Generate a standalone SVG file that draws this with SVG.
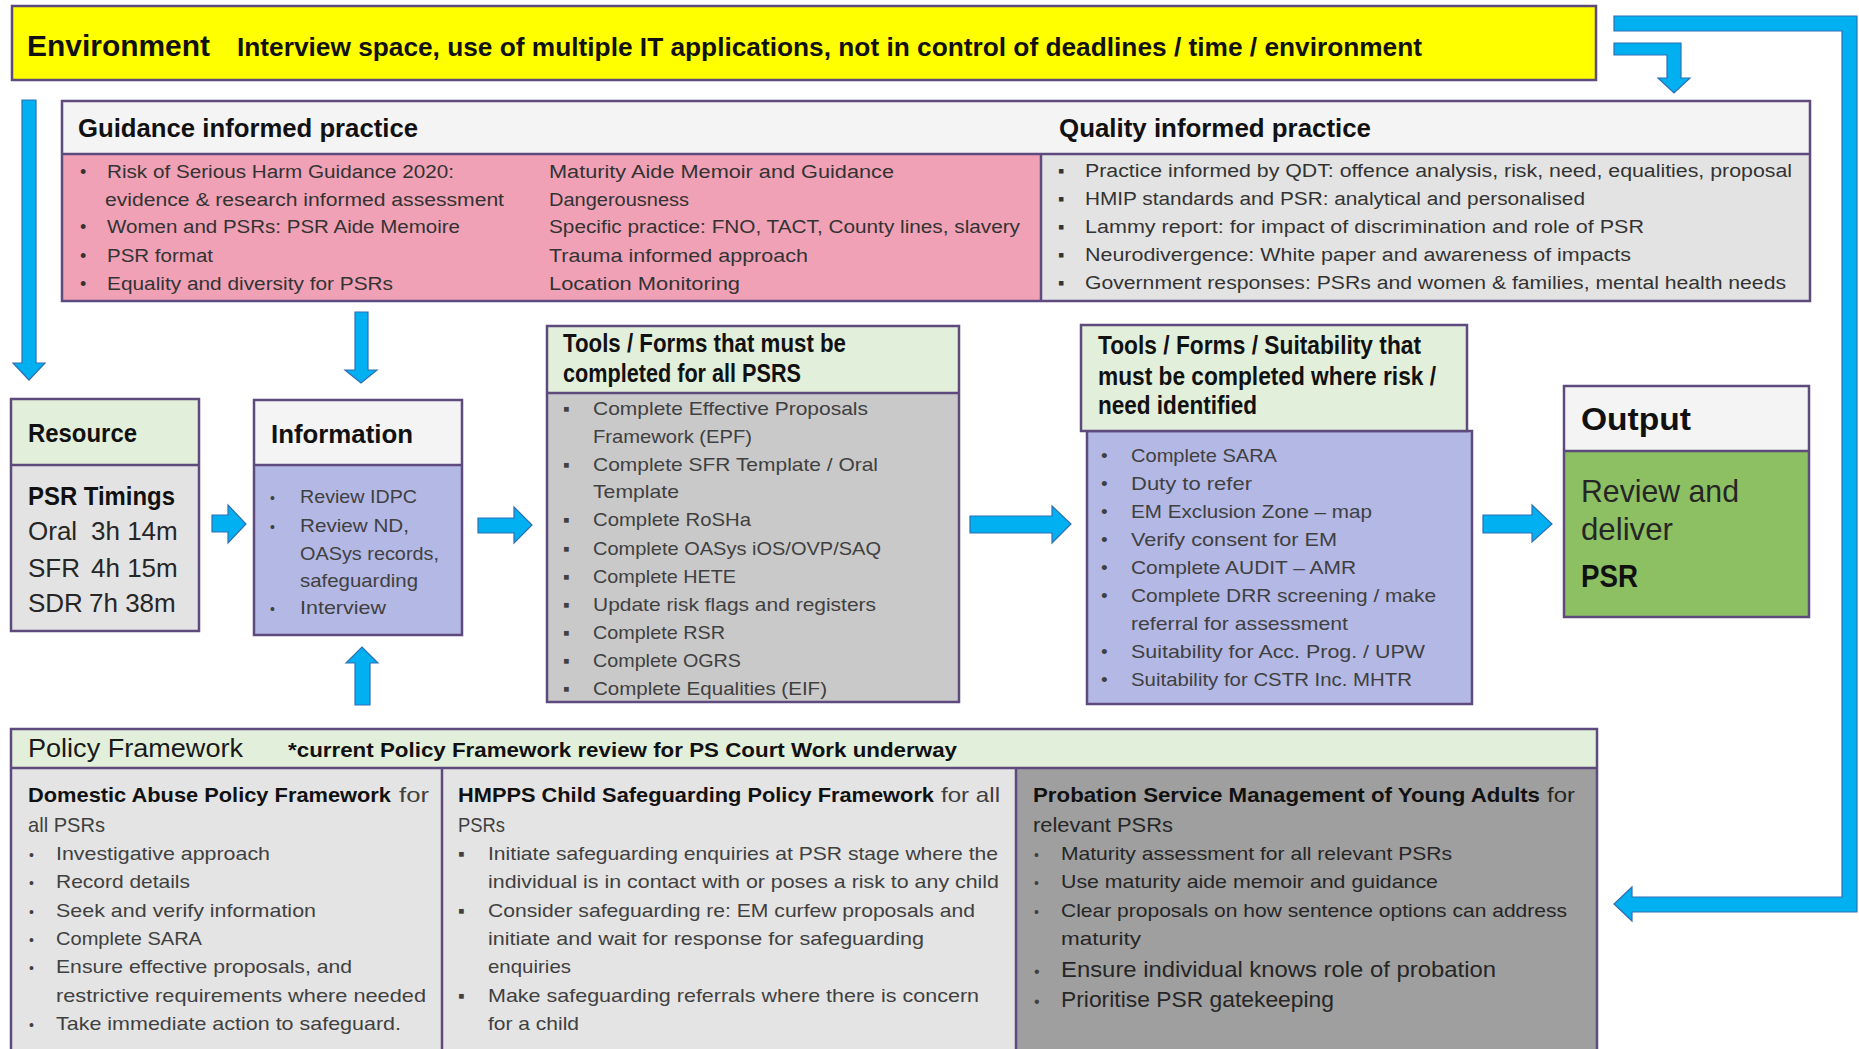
<svg xmlns="http://www.w3.org/2000/svg" width="1859" height="1049" viewBox="0 0 1859 1049">
<style>
text{font-family:"Liberation Sans",Arial,sans-serif;}
.b{font-weight:bold;fill:#111;}
.h{font-weight:bold;fill:#111;font-size:25px;}
.it{font-size:19px;fill:#404040;}
.pk{font-size:18px;fill:#333;}
.box{stroke:#5e4a7c;stroke-width:2.5;}
.arr{fill:#00b0f0;stroke:#2f6fb5;stroke-width:1.2;stroke-linejoin:miter;}
</style>
<rect width="1859" height="1049" fill="#ffffff"/>

<g id="connectors">
<polygon class="arr" points="1614,16 1857,16 1857,912 1632,912 1632,921 1614,904 1632,887 1632,897 1842,897 1842,31 1614,31"/>
<polygon class="arr" points="1614,43 1681,43 1681,78 1690,78 1674,93 1658,78 1667,78 1667,55 1614,55"/>
<polygon class="arr" points="22,100 36,100 36,363 45,363 29,380 13,363 22,363"/>
<polygon class="arr" points="355,312 368,312 368,370 377,370 361,383 345,370 355,370"/>
<polygon class="arr" points="355,705 370,705 370,663 378,663 362,647 346,663 355,663"/>
<polygon class="arr" points="212,515 228,515 228,505 246,524 228,543 228,532 212,532"/>
<polygon class="arr" points="478,518 514,518 514,507 532,525 514,543 514,533 478,533"/>
<polygon class="arr" points="970,516 1052,516 1052,506 1071,524 1052,543 1052,533 970,533"/>
<polygon class="arr" points="1483,515 1532,515 1532,505 1552,524 1532,542 1532,533 1483,533"/>
</g>

<g id="environment">
<rect class="box" x="12" y="6" width="1584" height="74" fill="#ffff00"/>
<text class="b" x="27" y="56" font-size="30" textLength="183" lengthAdjust="spacingAndGlyphs">Environment</text>
<text class="b" x="237" y="56" font-size="25" textLength="1185" lengthAdjust="spacingAndGlyphs">Interview space, use of multiple IT applications, not in control of deadlines / time / environment</text>
</g>

<g id="guidance-quality">
<rect x="62" y="101" width="1748" height="53" fill="#f4f4f4"/>
<rect x="62" y="154" width="979" height="147" fill="#f1a1b6"/>
<rect x="1041" y="154" width="769" height="147" fill="#e3e3e3"/>
<line x1="62" y1="154" x2="1810" y2="154" stroke="#5e4a7c" stroke-width="2.5"/>
<line x1="1041" y1="154" x2="1041" y2="301" stroke="#5e4a7c" stroke-width="2.5"/>
<rect class="box" x="62" y="101" width="1748" height="200" fill="none"/>
<text class="h" x="78" y="137" font-size="26" textLength="340" lengthAdjust="spacingAndGlyphs">Guidance informed practice</text>
<text class="h" x="1059" y="137" font-size="26" textLength="312" lengthAdjust="spacingAndGlyphs">Quality informed practice</text>
<g class="pk">
<text x="80" y="178">•</text><text x="80" y="233">•</text><text x="80" y="262">•</text><text x="80" y="290">•</text>
<text x="107" y="178" textLength="347" lengthAdjust="spacingAndGlyphs">Risk of Serious Harm Guidance 2020:</text>
<text x="105" y="206" textLength="399" lengthAdjust="spacingAndGlyphs">evidence &amp; research informed assessment</text>
<text x="107" y="233" textLength="353" lengthAdjust="spacingAndGlyphs">Women and PSRs: PSR Aide Memoire</text>
<text x="107" y="262" textLength="106" lengthAdjust="spacingAndGlyphs">PSR format</text>
<text x="107" y="290" textLength="286" lengthAdjust="spacingAndGlyphs">Equality and diversity for PSRs</text>
<text x="549" y="178" textLength="345" lengthAdjust="spacingAndGlyphs">Maturity Aide Memoir and Guidance</text>
<text x="549" y="206" textLength="140" lengthAdjust="spacingAndGlyphs">Dangerousness</text>
<text x="549" y="233" textLength="471" lengthAdjust="spacingAndGlyphs">Specific practice: FNO, TACT, County lines, slavery</text>
<text x="549" y="262" textLength="259" lengthAdjust="spacingAndGlyphs">Trauma informed approach</text>
<text x="549" y="290" textLength="191" lengthAdjust="spacingAndGlyphs">Location Monitoring</text>
<text x="1058" y="177">▪</text><text x="1058" y="205">▪</text><text x="1058" y="233">▪</text><text x="1058" y="261">▪</text><text x="1058" y="289">▪</text>
<text x="1085" y="177" textLength="707" lengthAdjust="spacingAndGlyphs">Practice informed by QDT: offence analysis, risk, need, equalities, proposal</text>
<text x="1085" y="205" textLength="500" lengthAdjust="spacingAndGlyphs">HMIP standards and PSR: analytical and personalised</text>
<text x="1085" y="233" textLength="559" lengthAdjust="spacingAndGlyphs">Lammy report: for impact of discrimination and role of PSR</text>
<text x="1085" y="261" textLength="546" lengthAdjust="spacingAndGlyphs">Neurodivergence: White paper and awareness of impacts</text>
<text x="1085" y="289" textLength="701" lengthAdjust="spacingAndGlyphs">Government responses: PSRs and women &amp; families, mental health needs</text>
</g>
</g>

<g id="resource">
<rect x="11" y="399" width="188" height="66" fill="#e2efda"/>
<rect x="11" y="465" width="188" height="166" fill="#e3e3e3"/>
<line x1="11" y1="465" x2="199" y2="465" stroke="#5e4a7c" stroke-width="2.5"/>
<rect class="box" x="11" y="399" width="188" height="232" fill="none"/>
<text class="h" x="28" y="442" textLength="109" lengthAdjust="spacingAndGlyphs">Resource</text>
<text class="h" x="28" y="505" font-size="26" textLength="147" lengthAdjust="spacingAndGlyphs">PSR Timings</text>
<g font-size="26" fill="#262626">
<text x="28" y="540">Oral</text><text x="91" y="540">3h 14m</text>
<text x="28" y="577">SFR</text><text x="91" y="577">4h 15m</text>
<text x="28" y="612">SDR</text><text x="89" y="612">7h 38m</text>
</g>
</g>

<g id="information">
<rect x="254" y="400" width="208" height="65" fill="#f4f4f4"/>
<rect x="254" y="465" width="208" height="170" fill="#b4b8e5"/>
<line x1="254" y1="465" x2="462" y2="465" stroke="#5e4a7c" stroke-width="2.5"/>
<rect class="box" x="254" y="400" width="208" height="235" fill="none"/>
<text class="h" x="271" y="443" textLength="142" lengthAdjust="spacingAndGlyphs">Information</text>
<g class="it" fill="#555">
<text x="270" y="503" font-size="14">•</text><text x="270" y="532" font-size="14">•</text><text x="270" y="614" font-size="14">•</text>
<text x="300" y="503" textLength="117" lengthAdjust="spacingAndGlyphs">Review IDPC</text>
<text x="300" y="532" textLength="109" lengthAdjust="spacingAndGlyphs">Review ND,</text>
<text x="300" y="560" textLength="139" lengthAdjust="spacingAndGlyphs">OASys records,</text>
<text x="300" y="587" textLength="118" lengthAdjust="spacingAndGlyphs">safeguarding</text>
<text x="300" y="614" textLength="86" lengthAdjust="spacingAndGlyphs">Interview</text>
</g>
</g>

<g id="tools-all">
<rect x="547" y="326" width="412" height="67" fill="#e2efda"/>
<rect x="547" y="393" width="412" height="309" fill="#c9c9c9"/>
<line x1="547" y1="393" x2="959" y2="393" stroke="#5e4a7c" stroke-width="2.5"/>
<rect class="box" x="547" y="326" width="412" height="376" fill="none"/>
<text class="h" x="563" y="352" font-size="23" textLength="283" lengthAdjust="spacingAndGlyphs">Tools / Forms that must be</text>
<text class="h" x="563" y="382" font-size="23" textLength="238" lengthAdjust="spacingAndGlyphs">completed for all PSRS</text>
<g class="it">
<text x="563" y="415">▪</text><text x="563" y="471">▪</text><text x="563" y="526">▪</text><text x="563" y="555">▪</text><text x="563" y="583">▪</text><text x="563" y="611">▪</text><text x="563" y="639">▪</text><text x="563" y="667">▪</text><text x="563" y="695">▪</text>
<text x="593" y="415" textLength="275" lengthAdjust="spacingAndGlyphs">Complete Effective Proposals</text>
<text x="593" y="443" textLength="159" lengthAdjust="spacingAndGlyphs">Framework (EPF)</text>
<text x="593" y="471" textLength="285" lengthAdjust="spacingAndGlyphs">Complete SFR Template / Oral</text>
<text x="593" y="498" textLength="86" lengthAdjust="spacingAndGlyphs">Template</text>
<text x="593" y="526" textLength="158" lengthAdjust="spacingAndGlyphs">Complete RoSHa</text>
<text x="593" y="555" textLength="288" lengthAdjust="spacingAndGlyphs">Complete OASys iOS/OVP/SAQ</text>
<text x="593" y="583" textLength="143" lengthAdjust="spacingAndGlyphs">Complete HETE</text>
<text x="593" y="611" textLength="283" lengthAdjust="spacingAndGlyphs">Update risk flags and registers</text>
<text x="593" y="639" textLength="132" lengthAdjust="spacingAndGlyphs">Complete RSR</text>
<text x="593" y="667" textLength="148" lengthAdjust="spacingAndGlyphs">Complete OGRS</text>
<text x="593" y="695" textLength="234" lengthAdjust="spacingAndGlyphs">Complete Equalities (EIF)</text>
</g>
</g>

<g id="tools-risk">
<rect class="box" x="1087" y="431" width="385" height="273" fill="#b4b8e5"/>
<rect class="box" x="1081" y="325" width="386" height="106" fill="#e2efda"/>
<text class="h" x="1098" y="354" font-size="23" textLength="323" lengthAdjust="spacingAndGlyphs">Tools / Forms / Suitability that</text>
<text class="h" x="1098" y="385" font-size="23" textLength="338" lengthAdjust="spacingAndGlyphs">must be completed where risk /</text>
<text class="h" x="1098" y="414" font-size="23" textLength="159" lengthAdjust="spacingAndGlyphs">need identified</text>
<g class="it" font-size="18">
<text x="1101" y="462">•</text><text x="1101" y="490">•</text><text x="1101" y="518">•</text><text x="1101" y="546">•</text><text x="1101" y="574">•</text><text x="1101" y="602">•</text><text x="1101" y="658">•</text><text x="1101" y="686">•</text>
<text x="1131" y="462" textLength="146" lengthAdjust="spacingAndGlyphs">Complete SARA</text>
<text x="1131" y="490" textLength="121" lengthAdjust="spacingAndGlyphs">Duty to refer</text>
<text x="1131" y="518" textLength="241" lengthAdjust="spacingAndGlyphs">EM Exclusion Zone – map</text>
<text x="1131" y="546" textLength="206" lengthAdjust="spacingAndGlyphs">Verify consent for EM</text>
<text x="1131" y="574" textLength="225" lengthAdjust="spacingAndGlyphs">Complete AUDIT – AMR</text>
<text x="1131" y="602" textLength="305" lengthAdjust="spacingAndGlyphs">Complete DRR screening / make</text>
<text x="1131" y="630" textLength="217" lengthAdjust="spacingAndGlyphs">referral for assessment</text>
<text x="1131" y="658" textLength="294" lengthAdjust="spacingAndGlyphs">Suitability for Acc. Prog. / UPW</text>
<text x="1131" y="686" textLength="281" lengthAdjust="spacingAndGlyphs">Suitability for CSTR Inc. MHTR</text>
</g>
</g>

<g id="output">
<rect x="1564" y="386" width="245" height="65" fill="#f4f4f4"/>
<rect x="1564" y="451" width="245" height="166" fill="#8dc063"/>
<line x1="1564" y1="451" x2="1809" y2="451" stroke="#5e4a7c" stroke-width="2.5"/>
<rect class="box" x="1564" y="386" width="245" height="231" fill="none"/>
<text class="b" x="1581" y="430" font-size="32" textLength="110" lengthAdjust="spacingAndGlyphs">Output</text>
<text x="1581" y="502" font-size="32" fill="#262626" textLength="158" lengthAdjust="spacingAndGlyphs">Review and</text>
<text x="1581" y="540" font-size="32" fill="#262626" textLength="92" lengthAdjust="spacingAndGlyphs">deliver</text>
<text class="b" x="1581" y="587" font-size="32" textLength="57" lengthAdjust="spacingAndGlyphs">PSR</text>
</g>

<g id="policy">
<rect x="11" y="729" width="1586" height="39" fill="#e2efda"/>
<rect x="11" y="768" width="431" height="290" fill="#e4e4e4"/>
<rect x="442" y="768" width="574" height="290" fill="#e4e4e4"/>
<rect x="1016" y="768" width="581" height="290" fill="#9f9f9f"/>
<line x1="11" y1="768" x2="1597" y2="768" stroke="#5e4a7c" stroke-width="2.5"/>
<line x1="442" y1="768" x2="442" y2="1058" stroke="#5e4a7c" stroke-width="2.5"/>
<line x1="1016" y1="768" x2="1016" y2="1058" stroke="#5e4a7c" stroke-width="2.5"/>
<rect class="box" x="11" y="729" width="1586" height="329" fill="none"/>
<text x="28" y="757" font-size="26" fill="#1a1a1a" textLength="215" lengthAdjust="spacingAndGlyphs">Policy Framework</text>
<text class="b" x="288" y="757" font-size="21" textLength="669" lengthAdjust="spacingAndGlyphs">*current Policy Framework review for PS Court Work underway</text>

<text class="b" x="28" y="802" font-size="21" textLength="363" lengthAdjust="spacingAndGlyphs">Domestic Abuse Policy Framework</text>
<text x="399" y="802" font-size="21" fill="#404040" textLength="30" lengthAdjust="spacingAndGlyphs">for</text>
<text x="28" y="832" font-size="21" fill="#404040" textLength="77" lengthAdjust="spacingAndGlyphs">all PSRs</text>
<g class="it">
<text x="29" y="860" font-size="14">•</text><text x="29" y="888" font-size="14">•</text><text x="29" y="917" font-size="14">•</text><text x="29" y="945" font-size="14">•</text><text x="29" y="973" font-size="14">•</text><text x="29" y="1030" font-size="14">•</text>
<text x="56" y="860" textLength="214" lengthAdjust="spacingAndGlyphs">Investigative approach</text>
<text x="56" y="888" textLength="134" lengthAdjust="spacingAndGlyphs">Record details</text>
<text x="56" y="917" textLength="260" lengthAdjust="spacingAndGlyphs">Seek and verify information</text>
<text x="56" y="945" textLength="146" lengthAdjust="spacingAndGlyphs">Complete SARA</text>
<text x="56" y="973" textLength="296" lengthAdjust="spacingAndGlyphs">Ensure effective proposals, and</text>
<text x="56" y="1002" textLength="370" lengthAdjust="spacingAndGlyphs">restrictive requirements where needed</text>
<text x="56" y="1030" textLength="345" lengthAdjust="spacingAndGlyphs">Take immediate action to safeguard.</text>
</g>

<text class="b" x="458" y="802" font-size="21" textLength="476" lengthAdjust="spacingAndGlyphs">HMPPS Child Safeguarding Policy Framework</text>
<text x="941" y="802" font-size="21" fill="#404040" textLength="59" lengthAdjust="spacingAndGlyphs">for all</text>
<text x="458" y="832" font-size="21" fill="#404040" textLength="47" lengthAdjust="spacingAndGlyphs">PSRs</text>
<g class="it">
<text x="458" y="860">▪</text><text x="458" y="917">▪</text><text x="458" y="1002">▪</text>
<text x="488" y="860" textLength="510" lengthAdjust="spacingAndGlyphs">Initiate safeguarding enquiries at PSR stage where the</text>
<text x="488" y="888" textLength="511" lengthAdjust="spacingAndGlyphs">individual is in contact with or poses a risk to any child</text>
<text x="488" y="917" textLength="487" lengthAdjust="spacingAndGlyphs">Consider safeguarding re: EM curfew proposals and</text>
<text x="488" y="945" textLength="436" lengthAdjust="spacingAndGlyphs">initiate and wait for response for safeguarding</text>
<text x="488" y="973" textLength="83" lengthAdjust="spacingAndGlyphs">enquiries</text>
<text x="488" y="1002" textLength="491" lengthAdjust="spacingAndGlyphs">Make safeguarding referrals where there is concern</text>
<text x="488" y="1030" textLength="91" lengthAdjust="spacingAndGlyphs">for a child</text>
</g>

<text class="b" x="1033" y="802" font-size="21" textLength="507" lengthAdjust="spacingAndGlyphs">Probation Service Management of Young Adults</text>
<text x="1547" y="802" font-size="21" fill="#262626" textLength="28" lengthAdjust="spacingAndGlyphs">for</text>
<text x="1033" y="832" font-size="21" fill="#262626" textLength="140" lengthAdjust="spacingAndGlyphs">relevant PSRs</text>
<g class="it" fill="#262626">
<text x="1034" y="860" font-size="14">•</text><text x="1034" y="888" font-size="14">•</text><text x="1034" y="917" font-size="14">•</text><text x="1034" y="977" font-size="16">•</text><text x="1034" y="1007" font-size="16">•</text>
<text x="1061" y="860" textLength="391" lengthAdjust="spacingAndGlyphs" fill="#262626">Maturity assessment for all relevant PSRs</text>
<text x="1061" y="888" textLength="377" lengthAdjust="spacingAndGlyphs" fill="#262626">Use maturity aide memoir and guidance</text>
<text x="1061" y="917" textLength="506" lengthAdjust="spacingAndGlyphs" fill="#262626">Clear proposals on how sentence options can address</text>
<text x="1061" y="945" textLength="80" lengthAdjust="spacingAndGlyphs" fill="#262626">maturity</text>
<text x="1061" y="977" font-size="22" textLength="435" lengthAdjust="spacingAndGlyphs" fill="#262626">Ensure individual knows role of probation</text>
<text x="1061" y="1007" font-size="22" textLength="273" lengthAdjust="spacingAndGlyphs" fill="#262626">Prioritise PSR gatekeeping</text>
</g>
</g>
</svg>
